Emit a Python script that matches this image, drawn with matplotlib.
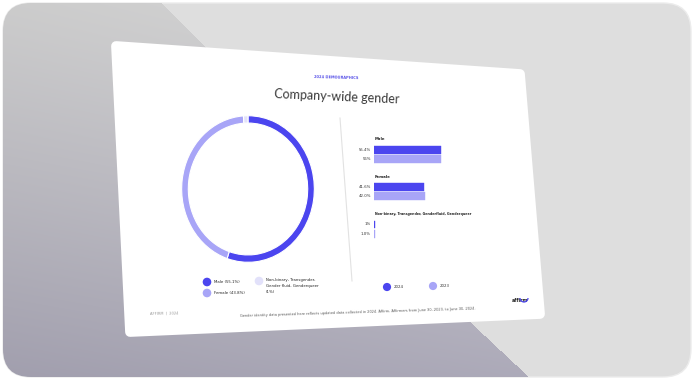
import numpy as np
import matplotlib
matplotlib.use("Agg")
import matplotlib.pyplot as plt
from matplotlib.patches import Polygon, FancyBboxPatch, Circle, Arc
from matplotlib.path import Path

# ---------------- data ----------------
donut_labels = ["Male (55.1%)", "Female (43.8%)",
                "Non-binary, Transgender,\nGender fluid, Genderqueer\n(1%)"]
donut_values = [55.1, 43.8, 1.1]

groups = ["Male", "Female", "Non-binary, Transgender, Genderfluid, Genderqueer"]
years = ["2024", "2023"]
values_2024 = [55.4, 41.6, 1.0]
values_2023 = [56.0, 42.0, 1.0]
labels_2024 = ["55.4%", "41.6%", "1%"]
labels_2023 = ["56%", "42.0%", "1.0%"]

header = "2024 DEMOGRAPHICS"
title = "Company-wide gender"
footer_left = "AFFIRM  |  2024"
footer_note = ("Gender identity data presented here reflects updated data collected in 2024. "
               "Affirm, Affirmers from June 30, 2023, to June 30, 2024.")

DARK = "#4b45ef"
LIGHT = "#a8a5f7"
PALE = "#e2e1fa"

W, H = 694, 380
fig = plt.figure(figsize=(W / 100, H / 100), dpi=100)
fig.patch.set_facecolor("white")


def rect(x0, y0, x1, y1):
    return [x0 / W, 1 - y1 / H, (x1 - x0) / W, (y1 - y0) / H]


# ---------------- background ----------------
bg = fig.add_axes([0, 0, 1, 1])
bg.set_xlim(0, W)
bg.set_ylim(H, 0)
bg.axis("off")

frame = FancyBboxPatch((3, 3), W - 6, H - 6, boxstyle="round,pad=0,rounding_size=28",
                       facecolor="#dedede", edgecolor="#ececec", lw=1.0, zorder=0)
bg.add_patch(frame)

yy, xx = np.mgrid[0:H, 0:W]
t = yy / H
s = xx / W
top = np.array([0.80, 0.80, 0.80])
bot = np.array([0.63, 0.62, 0.68])
w = t[..., None] ** 1.1
rgb = w * bot + (1 - w) * top + s[..., None] * 0.06
rgb = np.clip(rgb, 0, 1)
shadow_path = Path([(0, 0), (158, 0), (300, 140), (470, 322), (532, 380), (0, 380)])
inside = shadow_path.contains_points(np.c_[xx.ravel() + 0.5, yy.ravel() + 0.5]).reshape(H, W)
rgba = np.dstack([rgb, inside.astype(float)])
img = bg.imshow(rgba, extent=(0, W, H, 0), zorder=1, interpolation="bilinear", aspect="auto")
img.set_clip_path(frame)
bg.set_xlim(0, W)
bg.set_ylim(H, 0)

# slide
slide = Polygon([(116, 46), (520, 74), (540, 314), (130, 332)], closed=True,
                facecolor="white", edgecolor="white", lw=7, joinstyle="round", zorder=3)
bg.add_patch(slide)

# divider
bg.plot([340, 352], [118, 281], color="#e2e2e2", lw=0.8, zorder=4)

# texts on slide
bg.text(336, 78, header, ha="center", va="center", fontsize=2.6, color="#5a54e8",
        fontweight="bold", rotation=-1.5, zorder=5)
bg.text(337, 97, title, ha="center", va="center", fontsize=9, color="#3a3a3a",
        family="Lato", rotation=-2.5, zorder=5)
bg.text(150, 313, footer_left, ha="left", va="center", fontsize=2.6, color="#9a9a9a",
        rotation=1, zorder=5)
bg.text(358, 312, footer_note, ha="center", va="center", fontsize=2.5, color="#555555",
        rotation=1.8, zorder=5)

# affirm logo
bg.text(520, 301, "affirm", ha="center", va="center", fontsize=3.4, color="#222222",
        fontweight="bold", zorder=5)
bg.add_patch(Arc((524, 298), 8, 8, theta1=0, theta2=180, color=DARK, lw=0.9, zorder=5))

# ---------------- donut ----------------
axd = fig.add_axes(rect(181, 115, 315, 263))
axd.pie(donut_values, colors=[DARK, LIGHT, PALE], startangle=90, counterclock=False,
        wedgeprops=dict(width=0.1, edgecolor="white", linewidth=0.8))
axd.set_aspect("auto")
axd.set_xlim(-1.01, 1.01)
axd.set_ylim(-1.01, 1.01)
axd.axis("off")

# donut legend
leg_pos = [(207, 282), (207, 293), (259, 281)]
for (x, y), lab, col in zip(leg_pos, donut_labels, [DARK, LIGHT, PALE]):
    bg.add_patch(Circle((x, y), 3.6, color=col, zorder=5))
    multi = "\n" in lab
    bg.text(x + 7, y - (2.5 if multi else 0), lab, ha="left",
            va="top" if multi else "center", fontsize=2.8, color="#222222",
            linespacing=1.6, zorder=5)

# ---------------- bars ----------------
axb = fig.add_axes(rect(374, 133, 474, 240))
step = 3.6
ypos24 = [i * step for i in range(len(groups))]
ypos23 = [y + 0.9 for y in ypos24]
axb.barh(ypos24, values_2024, height=0.75, color=DARK, edgecolor=DARK, lw=0.3)
axb.barh(ypos23, values_2023, height=0.75, color=LIGHT, edgecolor=LIGHT, lw=0.3)
axb.set_xlim(0, 83)
axb.set_ylim(ypos23[-1] + 0.6, ypos24[0] - 1.6)
axb.axis("off")
for i, gname in enumerate(groups):
    axb.text(0.8, ypos24[i] - 1.0, gname, ha="left", va="center",
             fontsize=2.8 if i < 2 else 2.3, color="#222222", fontweight="bold")
    axb.text(-2.5, ypos24[i], labels_2024[i], ha="right", va="center", fontsize=2.8,
             color="#333333")
    axb.text(-2.5, ypos23[i], labels_2023[i], ha="right", va="center", fontsize=2.8,
             color="#333333")

# year legend
for (x, y), lab, col in zip([(387, 287), (433, 286)], years, [DARK, LIGHT]):
    bg.add_patch(Circle((x, y), 3.4, color=col, zorder=5))
    bg.text(x + 7, y, lab, ha="left", va="center", fontsize=2.8, color="#333333", zorder=5)

fig.savefig("out.png", dpi=100, facecolor="white")
